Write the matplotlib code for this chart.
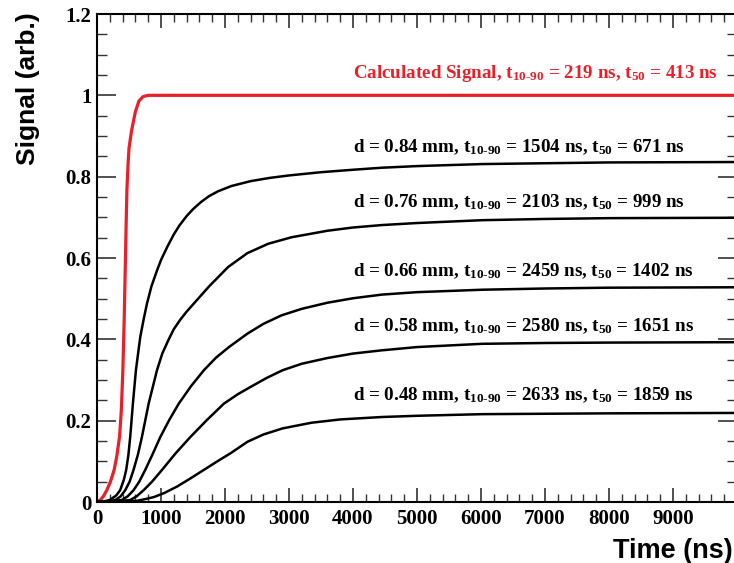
import matplotlib
matplotlib.use("Agg")
import matplotlib.pyplot as plt
from matplotlib.ticker import MultipleLocator, FixedLocator

plt.rcParams['mathtext.fontset'] = 'custom'
plt.rcParams['mathtext.rm'] = 'Liberation Serif:bold'
plt.rcParams['mathtext.it'] = 'Liberation Serif:bold'
plt.rcParams['mathtext.bf'] = 'Liberation Serif:bold'

# Calculated signal (red)
t_calc = [0, 53, 100, 153, 210, 268, 310, 352, 380, 404, 425, 441, 455, 467, 485, 500, 540, 600, 655, 720, 800, 10000]
s_calc = [0, 0.005, 0.014, 0.029, 0.05, 0.079, 0.113, 0.16, 0.225, 0.324, 0.45, 0.572, 0.68, 0.766, 0.83, 0.87, 0.913, 0.96, 0.986, 0.997, 1.0, 1.0]

# Measured signals (black)
t_084 = [0, 100, 200, 300, 362, 420, 456, 490, 519, 561, 608, 676, 730, 781, 850, 937, 1000, 1100, 1200, 1288, 1400, 1500,
         1628, 1750, 1890, 2100, 2400, 2700, 3000, 3500, 4000, 4452, 5000, 6021, 7000, 8000, 10000]
s_084 = [0, 0.001, 0.005, 0.016, 0.029, 0.055, 0.079, 0.115, 0.16, 0.242, 0.324, 0.406, 0.45, 0.488, 0.53, 0.569, 0.595,
         0.628, 0.658, 0.680, 0.703, 0.720, 0.738, 0.752, 0.764, 0.777, 0.789, 0.797, 0.803, 0.811, 0.817, 0.822, 0.826,
         0.831, 0.833, 0.835, 0.836]

t_076 = [0, 150, 290, 370, 441, 510, 571, 640, 702, 807, 937, 1020, 1121, 1200, 1300, 1400, 1513, 1750, 2050, 2350, 2675,
         3040, 3600, 4000, 4452, 5000, 6021, 7000, 8000, 10000]
s_076 = [0, 0.001, 0.005, 0.014, 0.029, 0.05, 0.079, 0.117, 0.16, 0.242, 0.324, 0.365, 0.400, 0.425, 0.448, 0.468, 0.488,
         0.530, 0.578, 0.612, 0.635, 0.651, 0.667, 0.675, 0.681, 0.686, 0.693, 0.696, 0.698, 0.699]

t_066 = [0, 200, 390, 480, 571, 660, 754, 870, 990, 1130, 1278, 1470, 1670, 1860, 2062, 2350, 2600, 2883, 3200, 3600, 4000,
         4452, 5000, 6021, 7000, 8000, 10000]
s_066 = [0, 0.001, 0.005, 0.014, 0.029, 0.05, 0.079, 0.118, 0.16, 0.202, 0.242, 0.285, 0.324, 0.355, 0.381, 0.414, 0.438,
         0.459, 0.475, 0.490, 0.501, 0.510, 0.516, 0.522, 0.525, 0.527, 0.528]

t_058 = [0, 300, 520, 620, 728, 860, 1016, 1230, 1460, 1720, 1984, 2200, 2400, 2650, 2900, 3200, 3600, 4000, 4452, 5000,
         6021, 7000, 8000, 10000]
s_058 = [0, 0.001, 0.005, 0.014, 0.029, 0.05, 0.079, 0.12, 0.16, 0.202, 0.242, 0.265, 0.283, 0.305, 0.324, 0.340, 0.354,
         0.365, 0.373, 0.381, 0.389, 0.391, 0.392, 0.393]

t_048 = [0, 400, 630, 750, 886, 1050, 1251, 1450, 1670, 1880, 2088, 2350, 2600, 2900, 3354, 3800, 4452, 5000, 6021, 7000,
         8000, 10000]
s_048 = [0, 0.0005, 0.003, 0.007, 0.012, 0.022, 0.038, 0.057, 0.079, 0.1, 0.12, 0.148, 0.166, 0.181, 0.195, 0.203, 0.209,
         0.212, 0.216, 0.217, 0.218, 0.219]

calc_label = "Calculated Signal, t$_{10\\text{-}90}$ = 219 ns, t$_{50}$ = 413 ns"
labels = [
    "d = 0.84 mm, t$_{10\\text{-}90}$ = 1504 ns, t$_{50}$ = 671 ns",
    "d = 0.76 mm, t$_{10\\text{-}90}$ = 2103 ns, t$_{50}$ = 999 ns",
    "d = 0.66 mm, t$_{10\\text{-}90}$ = 2459 ns, t$_{50}$ = 1402 ns",
    "d = 0.58 mm, t$_{10\\text{-}90}$ = 2580 ns, t$_{50}$ = 1651 ns",
    "d = 0.48 mm, t$_{10\\text{-}90}$ = 2633 ns, t$_{50}$ = 1859 ns",
]
label_y = [0.860, 0.726, 0.555, 0.420, 0.250]
calc_label_y = 1.043

xticks = [0, 1000, 2000, 3000, 4000, 5000, 6000, 7000, 8000, 9000]
yticks = [0, 0.2, 0.4, 0.6, 0.8, 1.0, 1.2]
ytick_labels = ["0", "0.2", "0.4", "0.6", "0.8", "1", "1.2"]

W, H = 734, 563
fig = plt.figure(figsize=(W / 100, H / 100), dpi=100)
ax = fig.add_axes([97 / W, 61 / H, 640 / W, 488 / H])

red = "#e8202a"
ax.plot(t_calc, s_calc, color=red, lw=2.3, solid_joinstyle='round')
for t, s in [(t_084, s_084), (t_076, s_076), (t_066, s_066), (t_058, s_058), (t_048, s_048)]:
    ax.plot(t, s, color="black", lw=1.8, solid_joinstyle='round')

serif = dict(family="Liberation Serif", weight="bold")
ax.text(4000, calc_label_y, calc_label, color=red, fontsize=13.7, va="baseline", **serif)
for lab, y in zip(labels, label_y):
    ax.text(4000, y, lab, color="black", fontsize=13.7, va="baseline", **serif)

ax.set_xlim(0, 10000)
ax.set_ylim(0, 1.2)
ax.xaxis.set_major_locator(FixedLocator(xticks))
ax.xaxis.set_minor_locator(MultipleLocator(200))
ax.yaxis.set_major_locator(FixedLocator(yticks))
ax.yaxis.set_minor_locator(MultipleLocator(0.05))
ax.set_xticklabels([str(v) for v in xticks])
ax.set_yticklabels(ytick_labels)
for lbl in ax.get_xticklabels() + ax.get_yticklabels():
    lbl.set_fontfamily("Liberation Serif")
    lbl.set_fontweight("bold")
    lbl.set_fontsize(15)

ax.tick_params(which="both", direction="in", top=True, right=True, color="#333333")
ax.tick_params(axis="y", which="major", length=14, width=1.2, pad=4)
ax.tick_params(axis="y", which="minor", length=7, width=1.0)
ax.tick_params(axis="x", which="major", length=10, width=1.2, pad=5)
ax.tick_params(axis="x", which="minor", length=6, width=1.0)
for sp in ax.spines.values():
    sp.set_linewidth(1.5)

fig.text(733 / W, 1 - 558 / H, "Time (ns)", ha="right", va="baseline",
         fontsize=19.5, family="Liberation Sans", weight="bold")
fig.text(28 / W, 1 - 12 / H, "Signal (arb.)", ha="center", va="top", rotation=90,
         fontsize=19, family="Liberation Sans", weight="bold")

fig.savefig("out.png", dpi=100)
